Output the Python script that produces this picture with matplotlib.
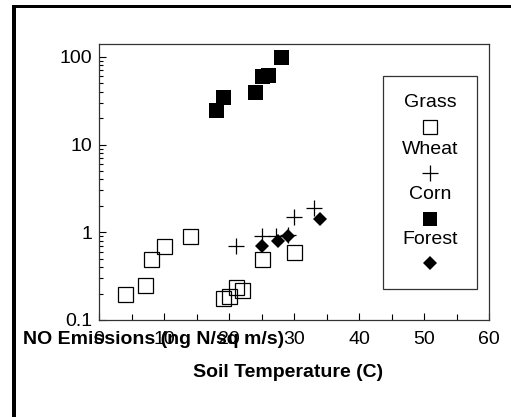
import matplotlib
matplotlib.use("Agg")
import matplotlib.pyplot as plt
from matplotlib.patches import Rectangle
from matplotlib.ticker import LogLocator, FixedLocator, NullFormatter

plt.rcParams['font.family'] = ['Liberation Sans', 'DejaVu Sans']

# ---- data ----
grass_x = [4, 7, 8, 10, 14, 19, 20, 21, 22, 25, 30]
grass_y = [0.2, 0.25, 0.5, 0.7, 0.9, 0.18, 0.19, 0.235, 0.22, 0.5, 0.6]

wheat_x = [21, 25, 27.3, 29, 30, 33]
wheat_y = [0.7, 0.9, 0.9, 0.93, 1.5, 1.9]

corn_x = [18, 19, 24, 25, 26, 28]
corn_y = [25, 35, 40, 60, 62, 100]

forest_x = [25, 27.5, 29, 34]
forest_y = [0.7, 0.8, 0.9, 1.4]

legend_labels = ["Grass", "Wheat", "Corn", "Forest"]
x_ticks = [0, 10, 20, 30, 40, 50, 60]
y_ticks = [0.1, 1, 10, 100]
y_ticklabels = ["0.1", "1", "10", "100"]

W, H = 511, 417
fig = plt.figure(figsize=(W / 100, H / 100), dpi=100)
ax = fig.add_axes([99 / W, (H - 320) / H, 390 / W, 276 / H])

ax.plot(grass_x, grass_y, linestyle='none', marker='s', markersize=10.8,
        markerfacecolor='none', markeredgecolor='black', markeredgewidth=0.9)
ax.plot(wheat_x, wheat_y, linestyle='none', marker='+', markersize=11.5,
        color='black', markeredgewidth=0.9)
ax.plot(corn_x, corn_y, linestyle='none', marker='s', markersize=10.8,
        color='black', markeredgewidth=0)
ax.plot(forest_x, forest_y, linestyle='none', marker='D', markersize=7.0,
        color='black', markeredgewidth=0)

ax.set_yscale('log')
ax.set_xlim(0, 60)
ax.set_ylim(0.1, 140)
ax.xaxis.set_major_locator(FixedLocator(x_ticks))
ax.xaxis.set_minor_locator(FixedLocator([5, 15, 25, 35, 45, 55]))
ax.set_xticklabels([str(t) for t in x_ticks])
ax.yaxis.set_major_locator(FixedLocator(y_ticks))
ax.set_yticklabels(y_ticklabels)
ax.yaxis.set_minor_locator(LogLocator(base=10, subs=range(2, 10)))
ax.yaxis.set_minor_formatter(NullFormatter())

ax.tick_params(which='both', direction='in', labelsize=14, colors='black')
ax.tick_params(axis='x', which='major', length=5, width=0.8, pad=8)
ax.tick_params(axis='x', which='minor', length=4, width=0.8)
ax.tick_params(axis='y', which='major', length=5, width=0.8, pad=5)
ax.tick_params(axis='y', which='minor', length=3, width=0.8)
for s in ax.spines.values():
    s.set_linewidth(0.9)
    s.set_color('#333333')

ax.set_xlabel("Soil Temperature (C)", fontsize=14, fontweight='bold')
ax.xaxis.set_label_coords(0.485, -0.19)
ax.xaxis.label.set_va('center')
ax.set_ylabel("NO Emissions (ng N/sq m/s)", fontsize=14, fontweight='bold',
              rotation=0, ha='center', va='center')
ax.yaxis.set_label_coords(0.139, -0.069)

# ---- manual legend (label above marker) ----
lx0, lx1, ly0, ly1 = 0.727, 0.970, 0.112, 0.884
ax.add_patch(Rectangle((lx0, ly0), lx1 - lx0, ly1 - ly0, transform=ax.transAxes,
                       facecolor='white', edgecolor='#333333', linewidth=0.9, zorder=3))
cx = 0.849
label_y = [0.787, 0.618, 0.453, 0.290]
marker_y = [0.700, 0.532, 0.365, 0.205]
styles = [
    dict(marker='s', markersize=10.5, markerfacecolor='none', markeredgecolor='black', markeredgewidth=0.9),
    dict(marker='+', markersize=11.5, color='black', markeredgewidth=0.9),
    dict(marker='s', markersize=10.5, color='black', markeredgewidth=0),
    dict(marker='D', markersize=7.0, color='black', markeredgewidth=0),
]
for lab, ty, my, st in zip(legend_labels, label_y, marker_y, styles):
    ax.text(cx, ty, lab, transform=ax.transAxes, ha='center', va='center',
            fontsize=14, zorder=4)
    ax.plot([cx], [my], linestyle='none', transform=ax.transAxes, zorder=4, **st)

# ---- figure border (left and top) ----
fig.add_artist(Rectangle((12 / W, 0), 4 / W, (H - 5) / H, transform=fig.transFigure,
                         facecolor='black', edgecolor='none'))
fig.add_artist(Rectangle((12 / W, (H - 8) / H), 1 - 12 / W, 3 / H, transform=fig.transFigure,
                         facecolor='black', edgecolor='none'))

fig.savefig("out.png", dpi=100)
